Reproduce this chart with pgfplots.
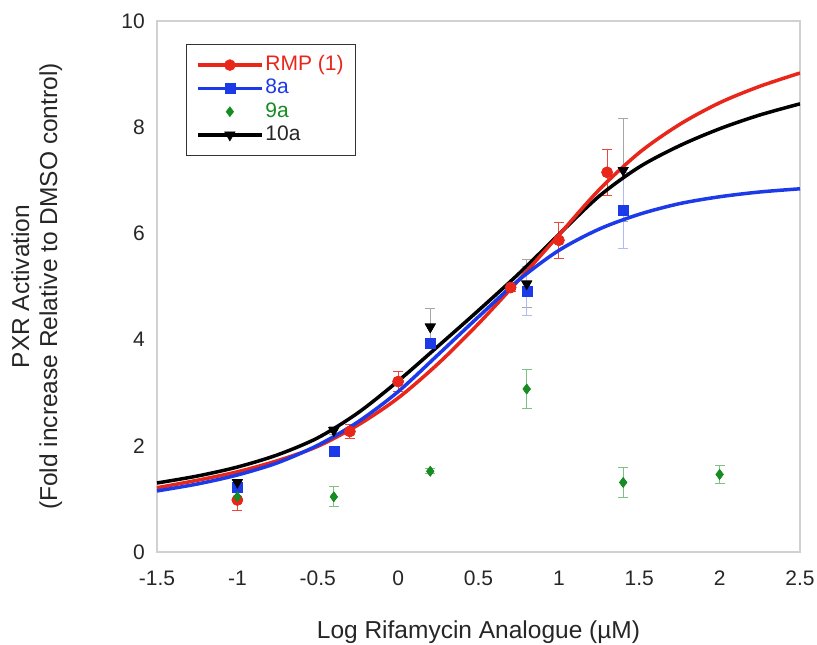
\documentclass[border=0pt]{standalone}
\usepackage{fontspec}
\setmainfont{Liberation Sans}
\usepackage{pgfplots}
\usepackage{pgfplotstable}
\pgfplotsset{compat=1.18}
\definecolor{cred}{RGB}{232,38,26}
\definecolor{cblue}{RGB}{28,58,232}
\definecolor{cgreen}{RGB}{22,140,34}
\pgfplotsset{
  linelegend/.style={legend image code/.code={\draw[mark repeat=2,mark phase=2,##1] plot coordinates {(0bp,0bp) (32bp,0bp) (64bp,0bp)};}},
  marklegend/.style={legend image code/.code={\draw[##1] plot coordinates {(32bp,0bp)};}},
}

\pgfplotstableread{
x y e
-1 0.98 0.20
-0.3 2.27 0.13
0 3.21 0.19
0.7 4.98 0.08
1.0 5.87 0.34
1.3 7.15 0.43
}\rmp
\pgfplotstableread{
x y e
-1 1.22 0.06
-0.4 1.89 0.05
0.2 3.93 0.10
0.8 4.91 0.46
1.4 6.43 0.72
}\eighta
\pgfplotstableread{
x y e
-1 1.04 0.08
-0.4 1.04 0.19
0.2 1.52 0.05
0.8 3.07 0.37
1.4 1.31 0.28
2.0 1.46 0.17
}\ninea
\pgfplotstableread{
x y e
-1 1.31 0.05
-0.4 2.29 0.08
0.2 4.24 0.34
0.8 5.05 0.45
1.4 7.19 0.97
}\tena
% fitted curves
\pgfplotstableread{
x y
-1.5 1.21
-1.25 1.35
-1.0 1.51
-0.75 1.72
-0.5 1.99
-0.25 2.39
0.0 2.90
0.25 3.55
0.5 4.30
0.75 5.12
1.0 5.97
1.25 6.82
1.5 7.52
1.75 8.05
2.0 8.46
2.25 8.77
2.5 9.02
}\rmpfit
\pgfplotstableread{
x y
-1.5 1.15
-1.25 1.28
-1.0 1.45
-0.75 1.68
-0.5 2.01
-0.25 2.45
0.0 3.02
0.25 3.72
0.5 4.43
0.75 5.12
1.0 5.68
1.25 6.08
1.5 6.36
1.75 6.56
2.0 6.69
2.25 6.78
2.5 6.84
}\eightafit
\pgfplotstableread{
x y
-1.5 1.30
-1.25 1.43
-1.0 1.60
-0.75 1.83
-0.5 2.15
-0.25 2.62
0.0 3.22
0.25 3.88
0.5 4.55
0.75 5.24
1.0 5.98
1.25 6.70
1.5 7.25
1.75 7.65
2.0 7.97
2.25 8.23
2.5 8.44
}\tenafit

\begin{document}
\begin{tikzpicture}
\path[use as bounding box] (-157bp,-93bp) rectangle (660bp,552bp);
\begin{axis}[
  at={(0,0)}, anchor=south west,
  scale only axis, width=643bp, height=531bp,
  xmin=-1.5, xmax=2.5, ymin=0, ymax=10,
  xtick={-1.5,-1,-0.5,0,0.5,1,1.5,2,2.5},
  xticklabels={-1.5,-1,-0.5,0,0.5,1,1.5,2,2.5},
  ytick={0,2,4,6,8,10},
  yticklabels={0,2,4,6,8,10},
  axis line style={draw=black!18, line width=1.5bp},
  major tick length=0pt,
  tick label style={font=\fontsize{21bp}{25bp}\selectfont, text=black!85},
  xticklabel style={anchor=base, inner sep=0pt, yshift=-33.5bp},
  yticklabel style={anchor=east, inner sep=0pt, xshift=-12bp},
  xlabel={Log Rifamycin Analogue (µM)},
  xlabel style={font=\fontsize{24.5bp}{28bp}\selectfont, text=black!85, at={(axis description cs:0.5,0)}, anchor=base, yshift=-86bp},
  ylabel={PXR Activation\\(Fold increase Relative to DMSO control)},
  ylabel style={font=\fontsize{24.5bp}{28bp}\selectfont, text=black!85, align=center, at={(axis description cs:-0.187,0.5)}, anchor=center},
  legend style={at={(axis description cs:0.0446,0.9567)}, anchor=north west,
    draw=black!80, line width=1.2bp, font=\fontsize{21bp}{25bp}\selectfont,
    inner xsep=10bp, inner ysep=9bp, row sep=0.3bp,
    nodes={inner sep=2bp, text height=15bp, text depth=4bp},
    /tikz/every even column/.append style={column sep=3bp}},
  legend cell align=left,
  clip=true,
]
\addlegendimage{cred, line width=3.2bp, mark=*, mark size=5.5bp, mark options={line width=0.5bp}, linelegend}
\addlegendentry{\textcolor{cred}{RMP (1)}}
\addlegendimage{cblue, line width=3.2bp, mark=square*, mark size=5bp, mark options={line width=0.5bp}, linelegend}
\addlegendentry{\textcolor{cblue}{8a}}
\addlegendimage{cgreen, line width=0.5bp, mark=diamond*, mark size=5bp, marklegend}
\addlegendentry{\textcolor{cgreen}{9a}}
\addlegendimage{black, line width=3.2bp, mark=triangle*, mark size=6bp, mark options={rotate=180, line width=0.5bp}, linelegend}
\addlegendentry{\textcolor{black!85}{10a}}

% error bars with markers
\addplot[forget plot, only marks, black, mark=triangle*, mark size=6bp, mark options={rotate=180},
  error bars/.cd, y dir=both, y explicit,
  error bar style={black!35, line width=1bp}, error mark options={rotate=90, mark size=5bp, line width=1bp, black!35}]
  table[x=x, y=y, y error=e] {\tena};
\addplot[forget plot, only marks, cgreen, mark=diamond*, mark size=5bp,
  error bars/.cd, y dir=both, y explicit,
  error bar style={cgreen!55, line width=1bp}, error mark options={rotate=90, mark size=5bp, line width=1bp, cgreen!55}]
  table[x=x, y=y, y error=e] {\ninea};
\addplot[forget plot, only marks, cblue, mark=square*, mark size=5bp,
  error bars/.cd, y dir=both, y explicit,
  error bar style={cblue!35, line width=1bp}, error mark options={rotate=90, mark size=5bp, line width=1bp, cblue!35}]
  table[x=x, y=y, y error=e] {\eighta};
\addplot[forget plot, only marks, cred, mark=*, mark size=5.5bp,
  error bars/.cd, y dir=both, y explicit,
  error bar style={cred!85, line width=1bp}, error mark options={rotate=90, mark size=5bp, line width=1bp, cred!85}]
  table[x=x, y=y, y error=e] {\rmp};

% fitted curves
\addplot[forget plot, black, line width=3.5bp, smooth, mark=none] table[x=x, y=y] {\tenafit};
\addplot[forget plot, cred, line width=3.5bp, smooth, mark=none] table[x=x, y=y] {\rmpfit};
\addplot[forget plot, cblue, line width=3.5bp, smooth, mark=none] table[x=x, y=y] {\eightafit};

% markers on top
\addplot[forget plot, only marks, cred, mark=*, mark size=5.5bp] table[x=x, y=y] {\rmp};
\addplot[forget plot, only marks, cblue, mark=square*, mark size=5bp] table[x=x, y=y] {\eighta};
\addplot[forget plot, only marks, cgreen, mark=diamond*, mark size=5bp] table[x=x, y=y] {\ninea};
\addplot[forget plot, only marks, black, mark=triangle*, mark size=6bp, mark options={rotate=180}] table[x=x, y=y] {\tena};
\end{axis}
\end{tikzpicture}
\end{document}
